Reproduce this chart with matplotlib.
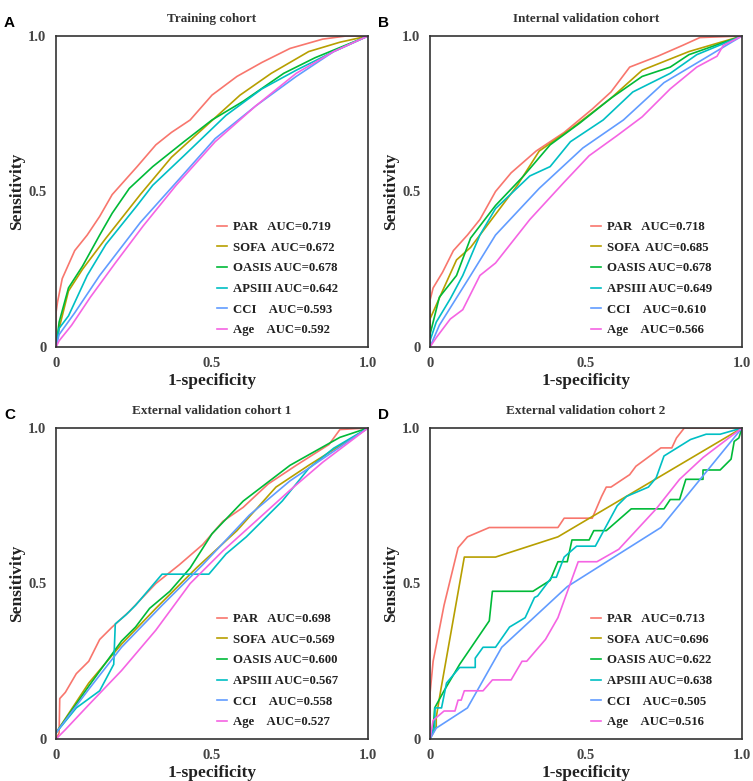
import matplotlib
matplotlib.use("Agg")
import matplotlib.pyplot as plt

# series names, colours and AUCs (one list per panel)
models = ["PAR", "SOFA", "OASIS", "APSIII", "CCI", "Age"]
colors = ["#F8766D", "#B79F00", "#00BA38", "#00BFC4", "#619CFF", "#F564E3"]
label_names = ["PAR   ", "SOFA  ", "OASIS ", "APSIII ", "CCI    ", "Age    "]

titles = ["Training cohort", "Internal validation cohort",
          "External validation cohort 1", "External validation cohort 2"]
panel_letters = ["A", "B", "C", "D"]

auc_a = [0.719, 0.672, 0.678, 0.642, 0.593, 0.592]
auc_b = [0.718, 0.685, 0.678, 0.649, 0.610, 0.566]
auc_c = [0.698, 0.569, 0.600, 0.567, 0.558, 0.527]
auc_d = [0.713, 0.696, 0.622, 0.638, 0.505, 0.516]

# ---- panel A: training cohort (fpr, tpr)
a_par_x = [0, 0, 0.005, 0.02, 0.06, 0.1, 0.14, 0.18, 0.26, 0.32, 0.37, 0.43, 0.5, 0.58, 0.66, 0.75, 0.855, 0.93, 1.0]
a_par_y = [0, 0.11, 0.145, 0.22, 0.31, 0.36, 0.42, 0.49, 0.58, 0.65, 0.69, 0.73, 0.81, 0.87, 0.915, 0.96, 0.99, 1.0, 1.0]
a_sofa_x = [0, 0.01, 0.04, 0.085, 0.16, 0.27, 0.37, 0.48, 0.59, 0.69, 0.81, 0.91, 1.0]
a_sofa_y = [0, 0.06, 0.18, 0.25, 0.35, 0.49, 0.61, 0.71, 0.81, 0.88, 0.95, 0.98, 1.0]
a_oasis_x = [0, 0.01, 0.04, 0.085, 0.14, 0.18, 0.235, 0.31, 0.41, 0.5, 0.6, 0.73, 0.83, 1.0]
a_oasis_y = [0, 0.08, 0.19, 0.26, 0.36, 0.43, 0.51, 0.58, 0.66, 0.73, 0.79, 0.88, 0.93, 1.0]
a_aps_x = [0, 0.01, 0.04, 0.1, 0.16, 0.26, 0.31, 0.41, 0.545, 0.66, 0.77, 0.89, 1.0]
a_aps_y = [0, 0.06, 0.1, 0.23, 0.33, 0.455, 0.52, 0.615, 0.745, 0.83, 0.89, 0.95, 1.0]
a_cci_x = [0, 0.01, 0.06, 0.14, 0.27, 0.395, 0.51, 0.64, 0.77, 0.89, 1.0]
a_cci_y = [0, 0.04, 0.11, 0.23, 0.4, 0.54, 0.67, 0.775, 0.87, 0.95, 1.0]
a_age_x = [0, 0.01, 0.05, 0.11, 0.19, 0.28, 0.385, 0.51, 0.64, 0.77, 0.89, 1.0]
a_age_y = [0, 0.02, 0.07, 0.16, 0.27, 0.39, 0.52, 0.66, 0.775, 0.88, 0.95, 1.0]

# ---- panel B: internal validation
b_par_x = [0, 0, 0.01, 0.04, 0.075, 0.12, 0.16, 0.21, 0.26, 0.34, 0.43, 0.52, 0.58, 0.64, 0.73, 0.81, 0.865, 1.0]
b_par_y = [0, 0.15, 0.19, 0.24, 0.31, 0.36, 0.41, 0.5, 0.56, 0.63, 0.69, 0.765, 0.82, 0.9, 0.935, 0.97, 0.995, 1.0]
b_sofa_x = [0, 0, 0.04, 0.085, 0.13, 0.19, 0.28, 0.35, 0.45, 0.58, 0.68, 0.83, 1.0]
b_sofa_y = [0, 0.09, 0.18, 0.28, 0.32, 0.4, 0.52, 0.63, 0.7, 0.8, 0.89, 0.95, 1.0]
b_oasis_x = [0, 0, 0.03, 0.085, 0.13, 0.21, 0.3, 0.385, 0.48, 0.58, 0.68, 0.77, 0.83, 1.0]
b_oasis_y = [0, 0.04, 0.16, 0.23, 0.35, 0.455, 0.55, 0.65, 0.72, 0.8, 0.87, 0.9, 0.94, 1.0]
b_aps_x = [0, 0, 0.02, 0.065, 0.105, 0.16, 0.21, 0.32, 0.385, 0.45, 0.555, 0.65, 0.77, 0.855, 1.0]
b_aps_y = [0, 0.02, 0.08, 0.155, 0.23, 0.36, 0.445, 0.55, 0.58, 0.66, 0.73, 0.82, 0.88, 0.94, 1.0]
b_cci_x = [0, 0.03, 0.13, 0.21, 0.35, 0.49, 0.62, 0.75, 0.875, 1.0]
b_cci_y = [0, 0.07, 0.23, 0.36, 0.51, 0.64, 0.73, 0.85, 0.925, 1.0]
b_age_x = [0, 0.02, 0.065, 0.105, 0.16, 0.21, 0.32, 0.43, 0.51, 0.6, 0.68, 0.77, 0.855, 0.92, 0.94, 1.0]
b_age_y = [0, 0.03, 0.09, 0.12, 0.23, 0.27, 0.41, 0.53, 0.615, 0.68, 0.74, 0.83, 0.9, 0.935, 0.97, 1.0]

# ---- panel C: external validation 1
c_par_x = [0, 0.01, 0.012, 0.03, 0.065, 0.105, 0.14, 0.18, 0.235, 0.32, 0.395, 0.47, 0.535, 0.6, 0.68, 0.77, 0.875, 0.91, 1.0]
c_par_y = [0, 0.02, 0.13, 0.15, 0.21, 0.25, 0.32, 0.36, 0.41, 0.5, 0.56, 0.625, 0.7, 0.745, 0.82, 0.88, 0.947, 0.995, 1.0]
c_sofa_x = [0, 0.105, 0.21, 0.32, 0.45, 0.58, 0.705, 0.81, 1.0]
c_sofa_y = [0.02, 0.18, 0.305, 0.42, 0.55, 0.67, 0.81, 0.88, 1.0]
c_oasis_x = [0, 0.105, 0.21, 0.255, 0.3, 0.365, 0.43, 0.5, 0.6, 0.75, 0.91, 0.94, 1.0]
c_oasis_y = [0.02, 0.17, 0.315, 0.36, 0.42, 0.475, 0.55, 0.66, 0.765, 0.88, 0.97, 0.98, 1.0]
c_aps_x = [0, 0.065, 0.14, 0.185, 0.19, 0.225, 0.255, 0.34, 0.49, 0.545, 0.61, 0.725, 0.81, 0.89, 1.0]
c_aps_y = [0.02, 0.1, 0.155, 0.24, 0.37, 0.4, 0.43, 0.53, 0.53, 0.595, 0.65, 0.765, 0.87, 0.935, 1.0]
c_cci_x = [0, 0.105, 0.21, 0.34, 0.47, 0.62, 0.75, 0.89, 1.0]
c_cci_y = [0.02, 0.16, 0.295, 0.43, 0.56, 0.72, 0.83, 0.925, 1.0]
c_age_x = [0, 0.03, 0.105, 0.21, 0.32, 0.43, 0.535, 0.64, 0.75, 0.855, 1.0]
c_age_y = [0, 0.03, 0.11, 0.22, 0.35, 0.5, 0.605, 0.7, 0.8, 0.89, 1.0]

# ---- panel D: external validation 2
d_par_x = [0, 0, 0.01, 0.045, 0.09, 0.12, 0.19, 0.41, 0.43, 0.52, 0.55, 0.565, 0.58, 0.64, 0.66, 0.74, 0.775, 0.79, 0.815, 1.0]
d_par_y = [0, 0.145, 0.25, 0.43, 0.615, 0.65, 0.68, 0.68, 0.71, 0.71, 0.78, 0.81, 0.81, 0.85, 0.877, 0.936, 0.936, 0.968, 1.0, 1.0]
d_sofa_x = [0, 0.02, 0.02, 0.035, 0.11, 0.21, 0.41, 1.0]
d_sofa_y = [0, 0.04, 0.07, 0.16, 0.585, 0.585, 0.65, 1.0]
d_oasis_x = [0, 0.01, 0.015, 0.045, 0.095, 0.19, 0.2, 0.33, 0.385, 0.41, 0.44, 0.455, 0.51, 0.525, 0.565, 0.645, 0.75, 0.77, 0.8, 0.82, 0.875, 0.875, 0.93, 0.965, 0.975, 0.99, 1.0]
d_oasis_y = [0, 0.03, 0.1, 0.155, 0.24, 0.38, 0.475, 0.475, 0.51, 0.57, 0.57, 0.64, 0.64, 0.67, 0.67, 0.74, 0.74, 0.77, 0.77, 0.835, 0.835, 0.865, 0.865, 0.9, 0.957, 0.968, 1.0]
d_aps_x = [0, 0.015, 0.016, 0.037, 0.053, 0.095, 0.145, 0.145, 0.17, 0.21, 0.255, 0.305, 0.335, 0.345, 0.39, 0.405, 0.43, 0.47, 0.53, 0.6, 0.63, 0.7, 0.725, 0.75, 0.835, 0.885, 0.93, 1.0]
d_aps_y = [0, 0.04, 0.1, 0.1, 0.18, 0.23, 0.23, 0.26, 0.295, 0.295, 0.36, 0.39, 0.455, 0.46, 0.52, 0.52, 0.585, 0.62, 0.62, 0.75, 0.78, 0.81, 0.84, 0.91, 0.963, 0.98, 0.98, 1.0]
d_cci_x = [0, 0.02, 0.12, 0.23, 0.44, 0.74, 1.0]
d_cci_y = [0, 0.035, 0.1, 0.295, 0.49, 0.68, 1.0]
d_age_x = [0, 0.01, 0.045, 0.08, 0.09, 0.1, 0.11, 0.17, 0.2, 0.26, 0.295, 0.31, 0.37, 0.41, 0.475, 0.535, 0.605, 0.725, 0.8, 0.875, 1.0]
d_age_y = [0, 0.06, 0.09, 0.09, 0.125, 0.125, 0.155, 0.155, 0.19, 0.19, 0.25, 0.25, 0.32, 0.39, 0.57, 0.57, 0.61, 0.74, 0.835, 0.905, 1.0]

panels = [
    ([(a_par_x, a_par_y), (a_sofa_x, a_sofa_y), (a_oasis_x, a_oasis_y),
      (a_aps_x, a_aps_y), (a_cci_x, a_cci_y), (a_age_x, a_age_y)], auc_a),
    ([(b_par_x, b_par_y), (b_sofa_x, b_sofa_y), (b_oasis_x, b_oasis_y),
      (b_aps_x, b_aps_y), (b_cci_x, b_cci_y), (b_age_x, b_age_y)], auc_b),
    ([(c_par_x, c_par_y), (c_sofa_x, c_sofa_y), (c_oasis_x, c_oasis_y),
      (c_aps_x, c_aps_y), (c_cci_x, c_cci_y), (c_age_x, c_age_y)], auc_c),
    ([(d_par_x, d_par_y), (d_sofa_x, d_sofa_y), (d_oasis_x, d_oasis_y),
      (d_aps_x, d_aps_y), (d_cci_x, d_cci_y), (d_age_x, d_age_y)], auc_d),
]

W, H = 753, 781
fig = plt.figure(figsize=(W / 100, H / 100), dpi=100)
serif = "Liberation Serif"

# axes boxes in pixels: left, top
boxes = [(56, 36), (430, 36), (56, 428), (430, 428)]
size_w, size_h = 312, 311

for i, (curves, aucs) in enumerate(panels):
    left, top = boxes[i]
    ax = fig.add_axes([left / W, 1 - (top + size_h) / H, size_w / W, size_h / H])
    for (x, y), name, lab, col, auc in zip(curves, models, label_names, colors, aucs):
        ax.plot(x, y, color=col, lw=1.2, label=f"{lab}AUC={auc:.3f}")
    ax.set_xlim(0, 1)
    ax.set_ylim(0, 1)
    ax.set_xticks([0, 0.5, 1.0])
    ax.set_yticks([0, 0.5, 1.0])
    ax.set_xticklabels(["0", "0.5", "1.0"])
    ax.set_yticklabels(["0", "0.5", "1.0"])
    ax.tick_params(length=0, pad=7, labelsize=10.5, colors="#444444")
    for lbl in ax.get_xticklabels() + ax.get_yticklabels():
        lbl.set_fontfamily(serif)
        lbl.set_fontweight("bold")
    for sp in ax.spines.values():
        sp.set_color("#333333")
        sp.set_linewidth(1.2)
    ax.set_xlabel("1-specificity", fontsize=12.5, fontfamily=serif,
                  fontweight="bold", color="#222222", labelpad=2.5)
    ax.set_ylabel("Sensitivity", fontsize=12.5, fontfamily=serif,
                  fontweight="bold", color="#222222", labelpad=2)
    ax.set_title(titles[i], fontsize=9.5, fontfamily=serif, fontweight="bold",
                 color="#333333", pad=10)
    leg = ax.legend(loc="upper left", bbox_to_anchor=(0.515, 0.405),
                    frameon=False, handlelength=0.8, handletextpad=0.5,
                    labelspacing=0.68, borderpad=0, borderaxespad=0,
                    prop={"family": serif, "weight": "bold", "size": 9.2})
    for t in leg.get_texts():
        t.set_color("#222222")
    fig.text((left - 52) / W, 1 - (top - 20) / H, panel_letters[i],
             fontsize=11, fontweight="bold", fontfamily="Liberation Sans",
             va="top", ha="left")

fig.savefig("out.png", dpi=100)
